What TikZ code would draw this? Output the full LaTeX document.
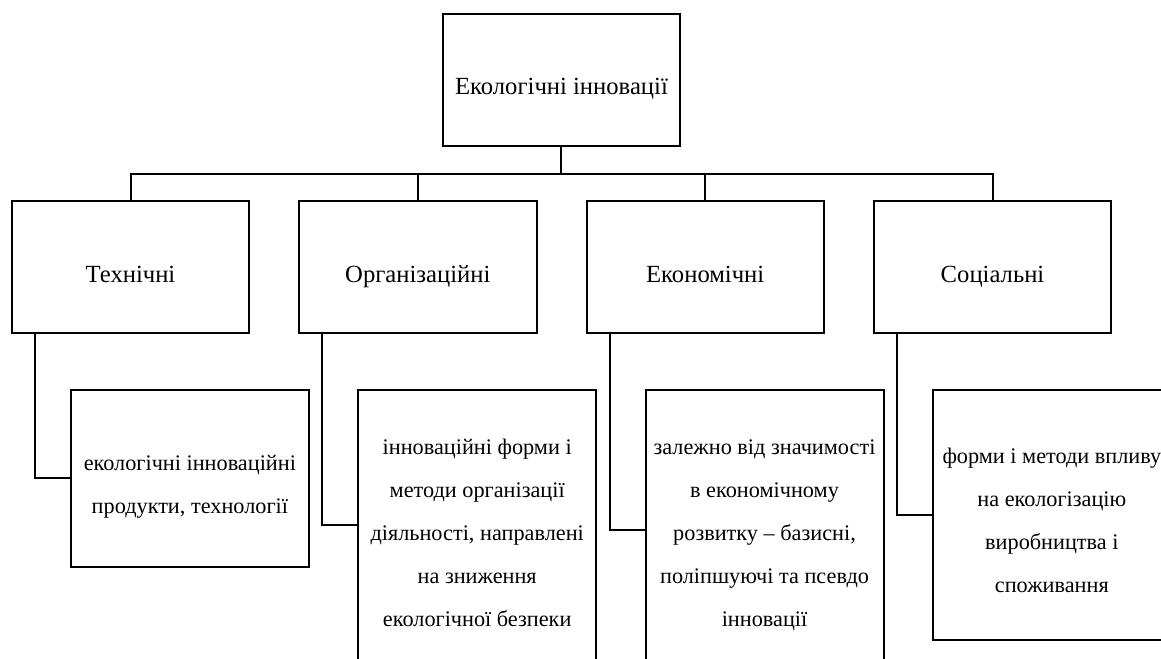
\documentclass[tikz,border=0pt]{standalone}
\usepackage{fontspec}
\setmainfont{Liberation Serif}
\usetikzlibrary{positioning,calc}
\tikzset{
  BX/.style={rectangle,draw,line width=1.5pt,
             minimum width=178pt,text centered,align=center,inner sep=0pt,
             font=\fontsize{18.5}{31.5}\selectfont},
  nTop/.style={BX,minimum height=99pt,text height=26.5pt,text depth=4pt},
  nCat/.style={BX,minimum height=99pt,text height=28pt,text depth=4pt},
  nSub/.style={BX,minimum width=178.5pt,text depth=4pt,
               font=\fontsize{16.7}{32.25}\selectfont},
  ln/.style={line width=1.5pt}
}

\begin{document}
\begin{tikzpicture}
  \clip (0,0) rectangle (870.75pt,-494.25pt);

  \node[nTop] (top) at (421.1pt,-60pt) {Екологічні інновації};

  \node[nCat] (tech) at (97.9pt,-200.25pt) {Технічні};
  \node[nCat,right=36pt of tech] (org) {Організаційні};
  \node[nCat,right=36pt of org] (econ) {Економічні};
  \node[nCat,right=36pt of econ] (soc) {Соціальні};

  \node[nSub,minimum height=132.75pt,text height=57.25pt,anchor=north west,below right=41pt and 44.25pt of tech.south west] (dTech)
    {екологічні інноваційні\\продукти, технології};
  \node[nSub,minimum height=202.5pt,text height=157pt,anchor=north west,below right=41pt and 44.25pt of org.south west] (dOrg)
    {інноваційні форми і\\методи організації\\діяльності, направлені\\на зниження\\екологічної безпеки};
  \node[nSub,minimum height=210pt,text height=149.5pt,anchor=north west,below right=41pt and 44.25pt of econ.south west] (dEcon)
    {залежно від значимості\\в економічному\\розвитку -- базисні,\\поліпшуючі та псевдо\\інновації};
  \node[nSub,minimum height=187.5pt,text height=121pt,anchor=north west,below right=41pt and 44.25pt of soc.south west] (dSoc)
    {форми і методи впливу\\на екологізацію\\виробництва і\\споживання};

  % bus from the top box
  \draw[ln] (top.south) -- ++(0,-20.25pt) coordinate (bus);
  \foreach \n in {tech,org,econ,soc}
    \draw[ln] (bus) -| (\n.north);

  % side stems to the descriptions
  \foreach \n/\m in {tech/dTech,org/dOrg,econ/dEcon,soc/dSoc}
    \draw[ln] ([xshift=18pt]\n.south west) |- (\m.west);
\end{tikzpicture}
\end{document}
